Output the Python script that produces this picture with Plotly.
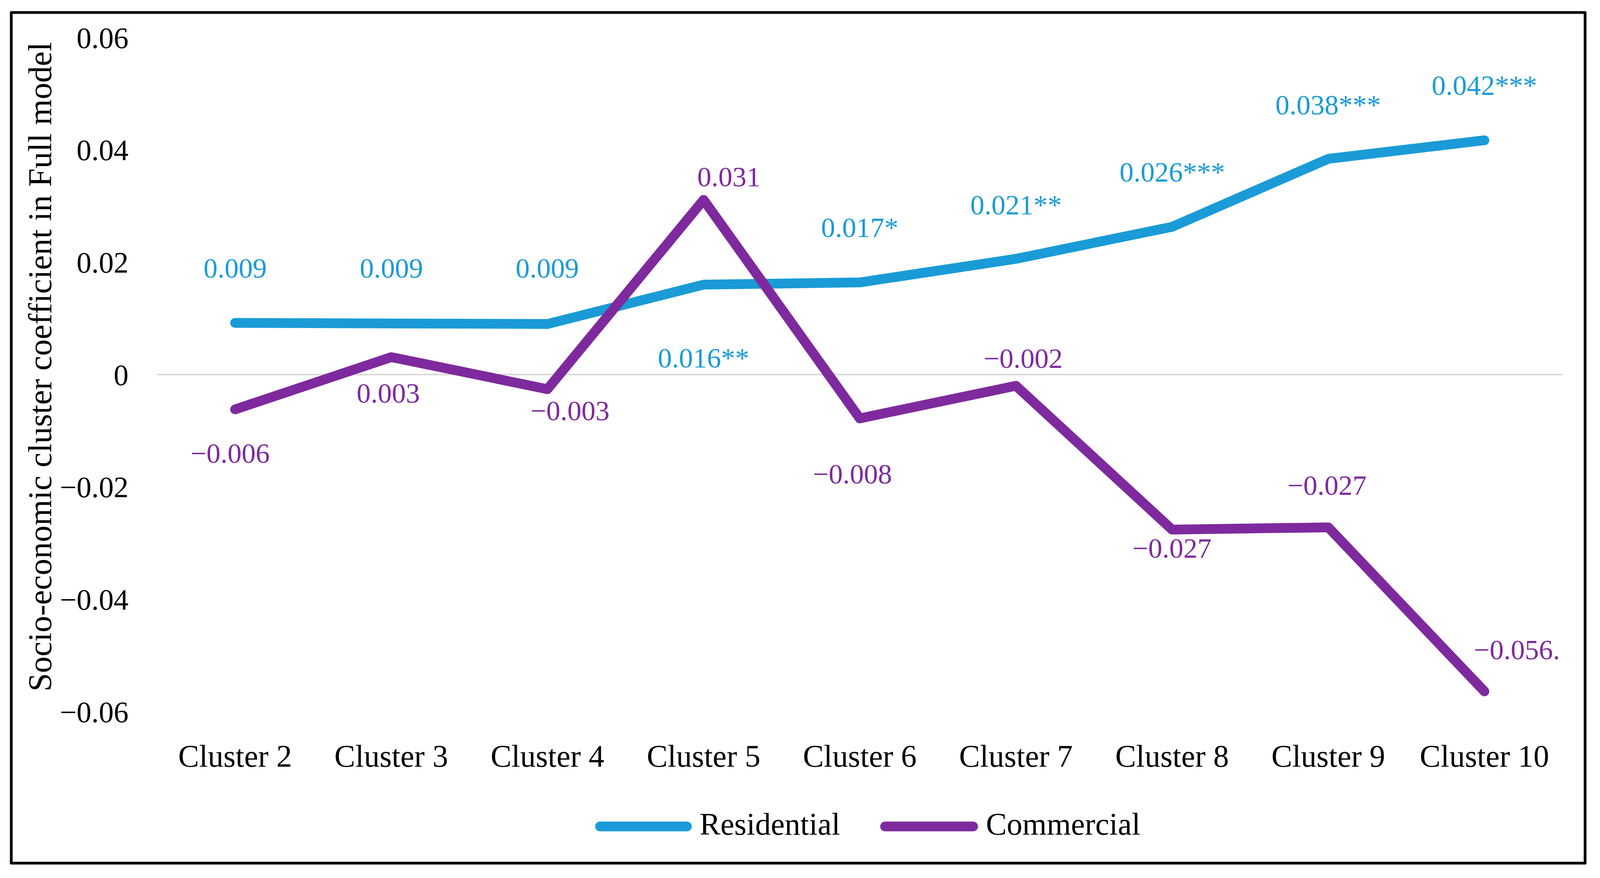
import plotly.graph_objects as go

# ---------------- data ----------------
categories = ["Cluster 2", "Cluster 3", "Cluster 4", "Cluster 5", "Cluster 6",
              "Cluster 7", "Cluster 8", "Cluster 9", "Cluster 10"]
residential = [0.0092, 0.0090, 0.0090, 0.0160, 0.0164, 0.0206, 0.0263, 0.0384, 0.0417]
commercial = [-0.0062, 0.0031, -0.0026, 0.0311, -0.0078, -0.0020, -0.0276, -0.0272, -0.0564]
res_labels = ["0.009", "0.009", "0.009", "0.016**", "0.017*", "0.021**",
              "0.026***", "0.038***", "0.042***"]
com_labels = ["\u22120.006", "0.003", "\u22120.003", "0.031", "\u22120.008",
              "\u22120.002", "\u22120.027", "\u22120.027", "\u22120.056."]
y_tickvals = [-0.06, -0.04, -0.02, 0, 0.02, 0.04, 0.06]
y_ticktext = ["\u22120.06", "\u22120.04", "\u22120.02", "0", "0.02", "0.04", "0.06"]
series_names = ["Residential", "Commercial"]
y_title = "Socio-economic cluster coefficient in Full model"

# label offsets in reference pixels (style only)
res_shift = [(0, 140), (0, 143), (0, 143), (0, -188), (0, 140), (0, 138), (0, 140), (0, 138), (0, 140)]
com_shift = [(-13, -113), (-8, -93), (62, -56), (70, 59), (-20, -143), (20, 70), (0, -48), (-3, 107), (90, 106)]

# ---------------- geometry ----------------
REF_W = 4400           # reference picture width
W, H = 4096, 2248      # actual browser viewport
SX = W / REF_W         # horizontal scale from reference pixels


def sx(v):
    return v * SX


ML, MR, MT, MB = round(sx(432)), round(sx(103)), 96, 426
PW, PH = W - ML - MR, H - MT - MB
BLUE = "#1A9BD7"
PURPLE = "#7E2A9E"
FONT = "Liberation Serif, serif"
LW = 25


def px_x(ref_px):
    return (sx(ref_px) - ML) / PW


def px_y(py):
    return (H - MB - py) / PH


fig = go.Figure()
fig.add_trace(go.Scatter(x=categories, y=residential, mode="lines", name=series_names[0],
                         line=dict(color=BLUE, width=LW), showlegend=False))
fig.add_trace(go.Scatter(x=categories, y=commercial, mode="lines", name=series_names[1],
                         line=dict(color=PURPLE, width=LW), showlegend=False))

annotations = []
for i, c in enumerate(categories):
    annotations.append(dict(x=c, y=residential[i], xref="x", yref="y", text=res_labels[i],
                            showarrow=False, xshift=sx(res_shift[i][0]), yshift=res_shift[i][1],
                            font=dict(family=FONT, size=72, color=BLUE)))
    annotations.append(dict(x=c, y=commercial[i], xref="x", yref="y", text=com_labels[i],
                            showarrow=False, xshift=sx(com_shift[i][0]), yshift=com_shift[i][1],
                            font=dict(family=FONT, size=72, color=PURPLE)))

# y-axis title
annotations.append(dict(x=px_x(110), y=px_y(939), xref="paper", yref="paper", text=y_title,
                        textangle=-90, showarrow=False, xanchor="center", yanchor="middle",
                        font=dict(family=FONT, size=85, color="black")))

# legend drawn as shapes + text (line ends inset by the round-cap radius)
shapes = []
cap = 14
legend_items = [(series_names[0], BLUE, 1636, 1903, 1922), (series_names[1], PURPLE, 2420, 2690, 2709)]
for name, col, x0, x1, xt in legend_items:
    shapes.append(dict(type="line", xref="paper", yref="paper", x0=px_x(x0 + cap), x1=px_x(x1 - cap),
                       y0=px_y(2116), y1=px_y(2116), line=dict(color=col, width=LW)))
    annotations.append(dict(x=px_x(xt), y=px_y(2110), xref="paper", yref="paper", text=name,
                            showarrow=False, xanchor="left", yanchor="middle",
                            font=dict(family=FONT, size=80, color="black")))

# outer frame
shapes.append(dict(type="rect", xref="paper", yref="paper", x0=px_x(31), x1=px_x(4359),
                   y0=px_y(2210), y1=px_y(32), line=dict(color="black", width=7),
                   fillcolor="rgba(0,0,0,0)", layer="above"))

fig.update_layout(
    width=W, height=H,
    margin=dict(l=ML, r=MR, t=MT, b=MB),
    paper_bgcolor="white", plot_bgcolor="white",
    showlegend=False,
    annotations=annotations,
    shapes=shapes,
    font=dict(family=FONT, color="black"),
)
fig.update_xaxes(type="category", range=[-0.5, len(categories) - 0.5], showgrid=False,
                 showline=False, zeroline=False, ticks="", ticklabelstandoff=60,
                 tickfont=dict(family=FONT, size=80, color="black"))
fig.update_yaxes(range=[-0.06, 0.06], tickvals=y_tickvals, ticktext=y_ticktext, showgrid=False,
                 showline=False, zeroline=True, zerolinecolor="#D9D9D9", zerolinewidth=4,
                 ticks="", ticklabelstandoff=72,
                 tickfont=dict(family=FONT, size=76, color="black"))

post = ("document.body.style.margin='0';document.body.style.overflow='hidden';"
        "document.querySelectorAll('.scatterlayer path.js-line, .shapelayer path').forEach("
        "function(p){p.style.strokeLinecap='round';p.style.strokeLinejoin='round';});")
fig.write_html("out.html", post_script=post, config={"displayModeBar": False})
